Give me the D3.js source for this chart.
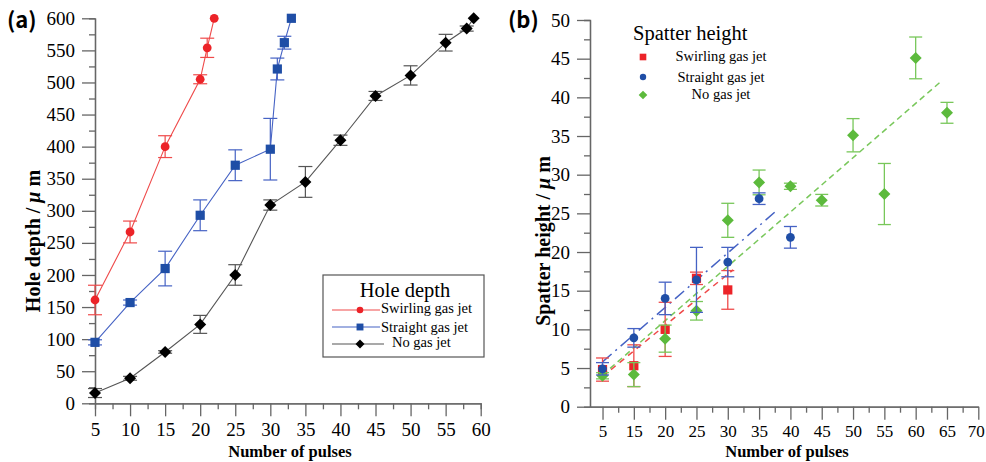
<!DOCTYPE html>
<html><head><meta charset="utf-8">
<script src="https://cdn.jsdelivr.net/npm/d3@7"></script>
<style>
body{margin:0;background:#fff}
svg text{font-family:"Liberation Serif","Times New Roman",serif;fill:#000}
</style>
</head><body>
<svg id="c" width="986" height="462"></svg>
<script>
// ---------- Panel (a) data: hole depth ----------
const pulsesSwirlA = [5, 10, 15, 20, 21, 22];
const depthSwirl   = [161, 267, 400, 505, 554, 600];
const errSwirl     = [23, 17, 17, 7, 15, 0];

const pulsesStraightA = [5, 10, 15, 20, 25, 30, 31, 32, 33];
const depthStraight   = [95, 157, 210, 293, 371, 396, 521, 562, 600];
const errStraight     = [4, 4, 27, 24, 24, 48, 17, 10, 0];

const pulsesNoA = [5, 10, 15, 20, 25, 30, 35, 40, 45, 50, 55, 58, 59];
const depthNo   = [16, 39, 80, 123, 200, 309, 345, 410, 479, 511, 562, 584, 600];
const errNo     = [7, 3, 2, 14, 16, 8, 24, 8, 7, 15, 13, 4, 0];

const xTicksA = [5, 10, 15, 20, 25, 30, 35, 40, 45, 50, 55, 60];
const yTicksA = [0, 50, 100, 150, 200, 250, 300, 350, 400, 450, 500, 550, 600];
const legendA = ["Swirling gas jet", "Straight gas jet", "No gas jet"];

// ---------- Panel (b) data: spatter height ----------
const pulseLabelsB = ["5", "15", "20", "25", "30", "35", "40", "45", "50", "55", "60", "65", "70"];
const yTicksB = [0, 5, 10, 15, 20, 25, 30, 35, 40, 45, 50];

const spatSwirlX   = ["5", "15", "20", "25", "30"];
const spatSwirl    = [4.8, 5.3, 10.0, 16.6, 15.1];
const spatSwirlErr = [1.5, 2.7, 3.5, 0.8, 2.5];

const spatStraightX   = ["5", "15", "20", "25", "30", "35", "40"];
const spatStraight    = [4.9, 8.9, 14.0, 16.4, 18.7, 26.9, 21.9];
const spatStraightErr = [0.8, 1.2, 2.1, 4.2, 1.9, 0.75, 1.4];

const spatNoX   = ["5", "15", "20", "25", "30", "35", "40", "45", "50", "55", "60", "65"];
const spatNo    = [4.0, 4.15, 8.8, 12.4, 24.1, 29.0, 28.5, 26.7, 35.1, 27.5, 45.1, 38.0];
const spatNoErr = [0.4, 1.55, 1.75, 1.2, 2.2, 1.6, 0.4, 0.75, 2.15, 3.95, 2.7, 1.35];

// linear fit lines: start/end in category-position units and values
const fitSwirlPos = [0, 4.17],   fitSwirlVal = [3.9, 17.7];
const fitStraightPos = [0, 5.6], fitStraightVal = [5.8, 25.5];
const fitNoPos = [0, 10.85],     fitNoVal = [4.1, 42.2];
const legendB = ["Swirling gas jet", "Straight gas jet", "No gas jet"];

// ---------- colours ----------
const RED = "#ec2328", RED_L = "#ef4a4a";
const BLUE = "#1f4ea6", BLUE_L = "#4562c4";
const BLACK = "#000", BLACK_L = "#555";
const GREEN = "#5cba3c", GREEN_L = "#78c75a";
const AXIS = "#666";

const svg = d3.select("#c");

function diamond(h) { return `M0,${-h}L${h},0L0,${h}L${-h},0Z`; }
function styleAxis(g, fs) {
  g.selectAll("path.domain").attr("stroke", AXIS).attr("stroke-width", 1.3);
  g.selectAll(".tick line").attr("stroke", AXIS).attr("stroke-width", 1.3);
  g.selectAll(".tick text").style("font-family", '"Liberation Serif",serif').style("font-size", (fs || 19) + "px").attr("fill", "#000");
}

// ================= Panel (a) =================
const xA = d3.scaleLinear().domain([5, 60]).range([95, 480.7]);
const yA = d3.scaleLinear().domain([0, 600]).range([403.3, 18.3]);

// minor ticks
svg.append("g").attr("transform", `translate(0,${yA(0)})`)
  .call(d3.axisBottom(xA).tickValues(d3.range(7.5, 60, 5)).tickSize(6).tickFormat(""))
  .call(styleAxis);
svg.append("g").attr("transform", `translate(${xA(5)},0)`)
  .call(d3.axisLeft(yA).tickValues(d3.range(25, 600, 50)).tickSize(6).tickFormat(""))
  .call(styleAxis);
// major
svg.append("g").attr("transform", `translate(0,${yA(0)})`)
  .call(d3.axisBottom(xA).tickValues(xTicksA).tickSize(13).tickSizeOuter(0).tickPadding(6))
  .call(g => styleAxis(g, 19));
svg.append("g").attr("transform", `translate(${xA(5)},0)`)
  .call(d3.axisLeft(yA).tickValues(yTicksA).tickSize(13).tickSizeOuter(0).tickPadding(7))
  .call(g => styleAxis(g, 19));

function seriesA(xs, ys, es, lineCol, markCol, shape) {
  const pts = xs.map((x, i) => ({ x, y: ys[i], e: es[i] }));
  const g = svg.append("g");
  g.append("path").datum(pts)
    .attr("d", d3.line().x(d => xA(d.x)).y(d => yA(d.y)))
    .attr("fill", "none").attr("stroke", lineCol).attr("stroke-width", 1.1);
  const eb = g.selectAll(".eb").data(pts.filter(d => d.e > 0)).enter().append("g")
    .attr("stroke", lineCol).attr("stroke-width", 1.2);
  eb.append("line").attr("x1", d => xA(d.x)).attr("x2", d => xA(d.x))
    .attr("y1", d => yA(d.y - d.e)).attr("y2", d => yA(d.y + d.e));
  [-1, 1].forEach(s => eb.append("line")
    .attr("x1", d => xA(d.x) - 7).attr("x2", d => xA(d.x) + 7)
    .attr("y1", d => yA(d.y + s * d.e)).attr("y2", d => yA(d.y + s * d.e)));
  drawMarkers(g, pts.map(d => [xA(d.x), yA(d.y)]), markCol, shape, 1);
}
function drawMarkers(g, coords, col, shape, k) {
  coords.forEach(([cx, cy]) => {
    if (shape === "circle") g.append("circle").attr("cx", cx).attr("cy", cy).attr("r", 4.4 * k).attr("fill", col);
    else if (shape === "square") g.append("rect").attr("x", cx - 4.6 * k).attr("y", cy - 4.6 * k)
      .attr("width", 9.2 * k).attr("height", 9.2 * k).attr("fill", col);
    else g.append("path").attr("d", diamond(6 * k)).attr("transform", `translate(${cx},${cy})`).attr("fill", col);
  });
}
seriesA(pulsesNoA, depthNo, errNo, BLACK_L, BLACK, "diamond");
seriesA(pulsesStraightA, depthStraight, errStraight, BLUE_L, BLUE, "square");
seriesA(pulsesSwirlA, depthSwirl, errSwirl, RED_L, RED, "circle");

// legend (a)
const lgA = svg.append("g");
lgA.append("rect").attr("x", 323).attr("y", 275).attr("width", 161).attr("height", 82)
  .attr("fill", "#fff").attr("stroke", "#555").attr("stroke-width", 1.2);
lgA.append("text").attr("x", 405).attr("y", 297).attr("text-anchor", "middle")
  .style("font-size", "20.5px").text("Hole depth");
const lgAcols = [[RED_L, RED, "circle"], [BLUE_L, BLUE, "square"], [BLACK_L, BLACK, "diamond"]];
const lgAy = [310, 327, 344], lgAtx = [381, 381, 392], lgAty = [313, 332, 347], lgAx2 = [380, 380, 384];
legendA.forEach((t, i) => {
  lgA.append("line").attr("x1", 332).attr("x2", lgAx2[i]).attr("y1", lgAy[i]).attr("y2", lgAy[i])
    .attr("stroke", lgAcols[i][0]).attr("stroke-width", 1.2);
  drawMarkers(lgA, [[360, lgAy[i]]], lgAcols[i][1], lgAcols[i][2], 0.75);
  lgA.append("text").attr("x", lgAtx[i]).attr("y", lgAty[i]).style("font-size", "14.5px").text(t);
});

// titles (a)
svg.append("text").attr("x", 290).attr("y", 457).attr("text-anchor", "middle")
  .style("font-size", "16.5px").style("font-weight", "bold").text("Number of pulses");
const tA = svg.append("text").attr("transform", "translate(40,241) rotate(-90)").attr("text-anchor", "middle")
  .style("font-size", "20px").style("font-weight", "bold");
tA.append("tspan").text("Hole depth / ");
tA.append("tspan").style("font-style", "italic").text("μ");
tA.append("tspan").text(" m");
svg.append("text").attr("x", 7).attr("y", 28)
  .style("font-family", '"Noto Sans CJK SC","Noto Sans",sans-serif').style("font-size", "22px").style("font-weight", "bold")
  .text("(a)");

// ================= Panel (b) =================
const xB = d3.scaleLinear().domain([-0.4, 12]).range([590, 978.3]);
const yB = d3.scaleLinear().domain([0, 50]).range([406.7, 20]);
const pos = l => pulseLabelsB.indexOf(l);

svg.append("g").attr("transform", `translate(0,${yB(0)})`)
  .call(d3.axisBottom(xB).tickValues(d3.range(0.5, 12, 1)).tickSize(6).tickFormat("").tickSizeOuter(0))
  .call(styleAxis);
svg.append("g").attr("transform", `translate(${xB(-0.4)},0)`)
  .call(d3.axisLeft(yB).tickValues(d3.range(2.5, 50, 5)).tickSize(6).tickFormat(""))
  .call(styleAxis);
svg.append("g").attr("transform", `translate(0,${yB(0)})`)
  .call(d3.axisBottom(xB).tickValues(d3.range(0, 13)).tickFormat(i => pulseLabelsB[i])
    .tickSize(13).tickSizeOuter(0).tickPadding(5))
  .call(g => styleAxis(g, 17))
  .call(g => g.selectAll(".tick text").filter(i => i === 12).attr("dx", "-2.5"));
svg.append("g").attr("transform", `translate(${xB(-0.4)},0)`)
  .call(d3.axisLeft(yB).tickValues(yTicksB).tickSize(13).tickSizeOuter(0).tickPadding(7))
  .call(g => styleAxis(g, 19));

// fit lines
function fit(ps, vs, col, dash) {
  svg.append("line").attr("x1", xB(ps[0])).attr("x2", xB(ps[1]))
    .attr("y1", yB(vs[0])).attr("y2", yB(vs[1]))
    .attr("stroke", col).attr("stroke-width", 1.5).attr("stroke-dasharray", dash);
}
fit(fitSwirlPos, fitSwirlVal, RED_L, "6,5");
fit(fitStraightPos, fitStraightVal, BLUE_L, "12,5,2,5");
fit(fitNoPos, fitNoVal, GREEN_L, "6,4");

function seriesB(xs, ys, es, errCol, markCol, shape) {
  const pts = xs.map((x, i) => ({ x: pos(x), y: ys[i], e: es[i] }));
  const g = svg.append("g");
  const eb = g.selectAll(".eb").data(pts).enter().append("g")
    .attr("stroke", errCol).attr("stroke-width", 1.3);
  eb.append("line").attr("x1", d => xB(d.x)).attr("x2", d => xB(d.x))
    .attr("y1", d => yB(d.y - d.e)).attr("y2", d => yB(d.y + d.e));
  [-1, 1].forEach(s => eb.append("line")
    .attr("x1", d => xB(d.x) - 6.5).attr("x2", d => xB(d.x) + 6.5)
    .attr("y1", d => yB(d.y + s * d.e)).attr("y2", d => yB(d.y + s * d.e)));
  drawMarkers(g, pts.map(d => [xB(d.x), yB(d.y)]), markCol, shape, 1);
}
seriesB(spatSwirlX, spatSwirl, spatSwirlErr, RED_L, RED, "square");
seriesB(spatNoX, spatNo, spatNoErr, GREEN_L, GREEN, "diamond");
seriesB(spatStraightX, spatStraight, spatStraightErr, BLUE_L, BLUE, "circle");

// legend (b)
const lgB = svg.append("g");
lgB.append("text").attr("x", 633).attr("y", 40).style("font-size", "20.5px").text("Spatter height");
const lgBcols = [[RED, "square"], [BLUE, "circle"], [GREEN, "diamond"]];
const lgBy = [57, 77, 95], lgBty = [61, 82, 99];
legendB.forEach((t, i) => {
  drawMarkers(lgB, [[643, lgBy[i]]], lgBcols[i][0], lgBcols[i][1], 0.72);
  lgB.append("text").attr("x", 721).attr("y", lgBty[i]).attr("text-anchor", "middle")
    .style("font-size", "14.5px").text(t);
});

// titles (b)
svg.append("text").attr("x", 787).attr("y", 457).attr("text-anchor", "middle")
  .style("font-size", "16.5px").style("font-weight", "bold").text("Number of pulses");
const tB = svg.append("text").attr("transform", "translate(550,241) rotate(-90)").attr("text-anchor", "middle")
  .style("font-size", "20px").style("font-weight", "bold");
tB.append("tspan").text("Spatter height / ");
tB.append("tspan").style("font-style", "italic").text("μ");
tB.append("tspan").text(" m");
svg.append("text").attr("x", 508).attr("y", 28)
  .style("font-family", '"Noto Sans CJK SC","Noto Sans",sans-serif').style("font-size", "22px").style("font-weight", "bold")
  .text("(b)");
</script>
</body></html>
